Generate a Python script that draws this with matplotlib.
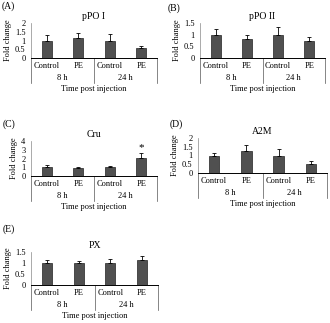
import numpy as np
import matplotlib.pyplot as plt
import matplotlib.transforms as mtransforms

plt.rcParams['font.family'] = ['Liberation Serif', 'DejaVu Serif']

categories = ['Control', 'PE', 'Control', 'PE']
groups = ['8 h', '24 h']

titles = ['pPO I', 'pPO II', 'Cru', 'A2M', 'PX']
letters = ['(A)', '(B)', '(C)', '(D)', '(E)']
vals_a = [1.0, 1.15, 1.0, 0.55]
errs_a = [0.3, 0.3, 0.35, 0.15]
vals_b = [1.0, 0.83, 1.0, 0.72]
errs_b = [0.25, 0.17, 0.33, 0.2]
vals_c = [1.0, 0.9, 1.0, 2.1]
errs_c = [0.3, 0.1, 0.1, 0.5]
vals_d = [1.0, 1.28, 1.0, 0.52]
errs_d = [0.15, 0.3, 0.35, 0.15]
vals_e = [1.0, 0.98, 1.0, 1.12]
errs_e = [0.15, 0.12, 0.2, 0.2]
ylims = [(2, 0.5), (1.5, 0.5), (4, 1), (2, 0.5), (1.5, 0.5)]
star = [None, None, 3, None, None]

# axes boxes in figure pixels: left, top(axis top), right, bottom(axis line)
boxes = [(31, 23, 157, 58), (200, 23, 325, 58), (31, 141, 157, 176),
         (198, 138, 327, 173), (31, 252, 158, 285)]
letter_pos = [(2, 6), (168, 8), (3, 124), (170, 124), (3, 229)]

W, H = 330, 323
fig = plt.figure(figsize=(W / 100, H / 100), dpi=100)
fs = 6
data = [(vals_a, errs_a), (vals_b, errs_b), (vals_c, errs_c), (vals_d, errs_d), (vals_e, errs_e)]

for i, (vals, errs) in enumerate(data):
    l, t, r, b = boxes[i]
    ax = fig.add_axes([l / W, 1 - b / H, (r - l) / W, (b - t) / H])
    x = np.arange(len(vals))
    ax.bar(x, vals, width=0.32, color='#505050', edgecolor='#222222', linewidth=0.5)
    ax.errorbar(x, vals, yerr=[np.zeros(len(errs)), errs], fmt='none',
                ecolor='black', elinewidth=0.6, capsize=1.5, capthick=0.6)
    top, step = ylims[i]
    ax.set_ylim(0, top)
    ax.set_yticks(np.arange(0, top + 1e-9, step))
    ax.set_yticklabels([f'{v:g}' for v in np.arange(0, top + 1e-9, step)])
    ax.set_xlim(-0.5, 3.5)
    ax.set_xticks([])
    for s in ['top', 'right']:
        ax.spines[s].set_visible(False)
    ax.spines['left'].set_color('#888888')
    ax.spines['left'].set_linewidth(0.5)
    ax.spines['bottom'].set_linewidth(0.7)
    ax.tick_params(axis='y', labelsize=fs, length=0, pad=4)
    ax.set_ylabel('Fold change', fontsize=fs, labelpad=2)
    ax.set_title(titles[i], fontsize=7, pad=3)
    h = b - t
    trans = mtransforms.blended_transform_factory(ax.transData, ax.transAxes)
    for xs in [-0.5, 1.5, 3.5]:
        ax.plot([xs, xs], [0, -25 / h], transform=trans, color='#555555',
                linewidth=0.5, clip_on=False)
    for j, c in enumerate(categories):
        ax.text(j, -8 / h, c, transform=trans, ha='center', va='center', fontsize=fs)
    for g, gx in zip(groups, [0.5, 2.5]):
        ax.text(gx, -20 / h, g, transform=trans, ha='center', va='center', fontsize=fs)
    ax.text(0.5, -31 / h, 'Time post injection', transform=ax.transAxes,
            ha='center', va='center', fontsize=fs)
    if star[i] is not None:
        k = star[i]
        ax.text(k, vals[k] + errs[k] + 0.1, '*', ha='center', va='bottom', fontsize=8)
    lx, ly = letter_pos[i]
    fig.text(lx / W, 1 - ly / H, letters[i], ha='left', va='center', fontsize=7)

plt.savefig('out.png', dpi=100)
